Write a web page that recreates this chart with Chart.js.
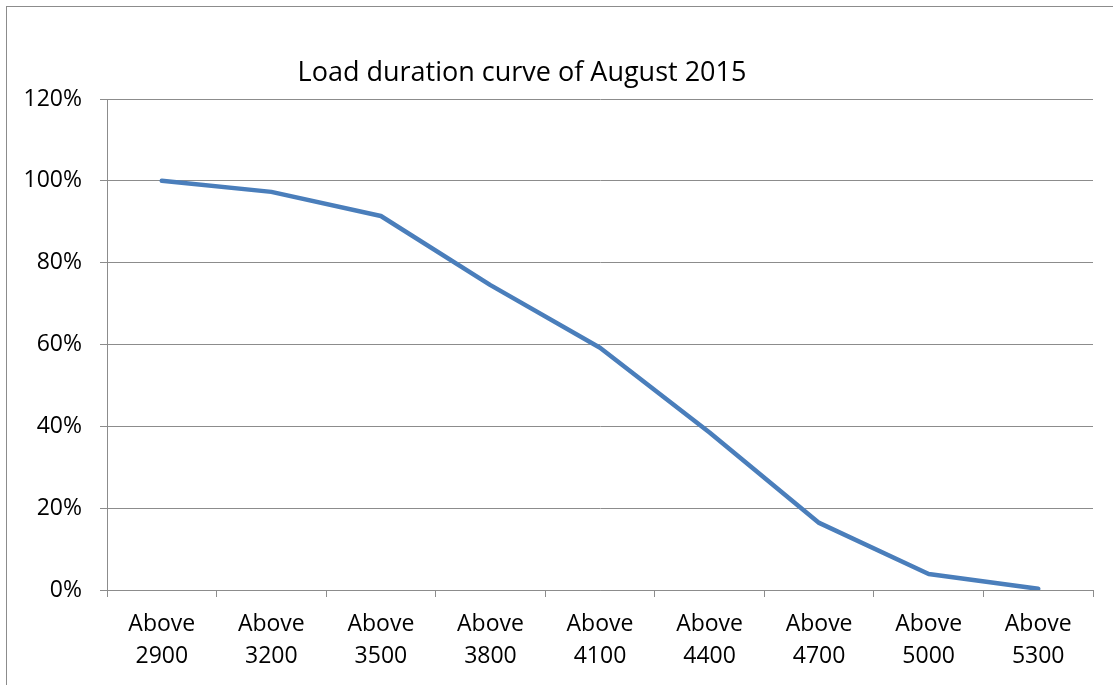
<!DOCTYPE html>
<html>
<head>
<meta charset="utf-8">
<script src="https://cdn.jsdelivr.net/npm/chart.js@4.4.1/dist/chart.umd.min.js"></script>
<style>
    html, body { margin: 0; padding: 0; background: #fff; overflow: hidden; }
    #wrap { position: relative; width: 1113px; height: 685px; }
    #frame { position: absolute; left: 6px; top: 6px; width: 1200px; height: 800px;
             border-left: 1.5px solid #8c8c8c; border-top: 1.5px solid #8c8c8c; }
    #chart1 { position: absolute; left: 0; top: 0; }
</style>
</head>
<body>
<div id="wrap">
    <div id="frame"></div>
    <canvas id="chart1" width="1113" height="685"></canvas>
</div>
<script>
// data
const chartTitle = 'Load duration curve of August 2015';
const thresholds = [2900, 3200, 3500, 3800, 4100, 4400, 4700, 5000, 5300];
const percentAbove = [100, 97.3, 91.4, 74.5, 59.2, 38.5, 16.4, 3.9, 0.3];
const yTicks = [0, 20, 40, 60, 80, 100, 120];

const gridGrey = '#8c8c8c';
const fontFamily = '"Open Sans", "Noto Sans", sans-serif';

// title drawn at a fixed spot, like the spreadsheet one
const titlePlugin = {
    id: 'fixedTitle',
    afterDraw(chart) {
        const ctx = chart.ctx;
        ctx.save();
        ctx.fillStyle = '#000';
        ctx.font = '27px ' + fontFamily;
        ctx.textAlign = 'center';
        ctx.textBaseline = 'middle';
        ctx.fillText(chartTitle, 522, 73);
        ctx.restore();
    }
};

new Chart(document.getElementById('chart1'), {
    type: 'line',
    data: {
        labels: thresholds.map(t => ['Above', String(t)]),
        datasets: [{
            label: 'Load duration',
            data: percentAbove,
            borderColor: '#4a7ebb',
            borderWidth: 4.5,
            borderCapStyle: 'round',
            borderJoinStyle: 'round',
            pointRadius: 0,
            tension: 0
        }]
    },
    options: {
        responsive: false,
        animation: false,
        devicePixelRatio: 1,
        layout: { padding: { left: 0, right: 20, top: 99, bottom: 0 } },
        plugins: {
            legend: { display: false },
            title: { display: false },
            tooltip: { enabled: false }
        },
        scales: {
            x: {
                type: 'category',
                offset: true,
                grid: { offset: true, drawOnChartArea: false, tickLength: 7, color: gridGrey },
                border: { color: gridGrey, width: 1 },
                ticks: {
                    color: '#000',
                    font: { family: fontFamily, size: 23, lineHeight: 1.4 },
                    padding: 11,
                    maxRotation: 0,
                    autoSkip: false
                },
                afterFit: s => { s.height = 95; }
            },
            y: {
                min: 0,
                max: 120,
                afterBuildTicks: s => { s.ticks = yTicks.map(v => ({ value: v })); },
                grid: { color: gridGrey, tickLength: 7 },
                border: { color: gridGrey, width: 1 },
                ticks: {
                    color: '#000',
                    font: { family: fontFamily, size: 23 },
                    padding: 18,
                    callback: v => v + '%'
                },
                afterFit: s => { s.width = 107; }
            }
        }
    },
    plugins: [titlePlugin]
});
</script>
</body>
</html>
